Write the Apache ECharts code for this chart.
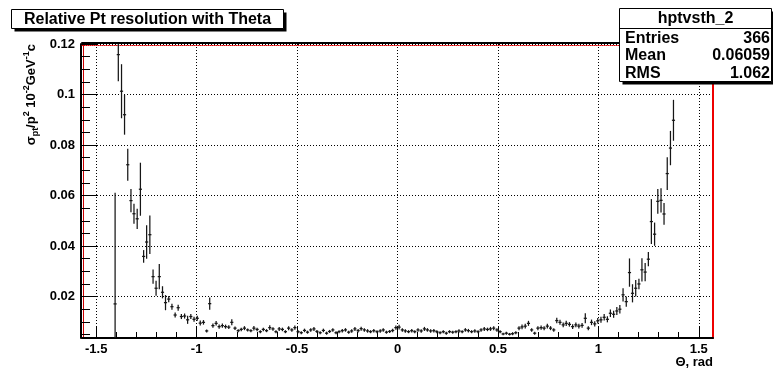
<!DOCTYPE html>
<html>
<head>
<meta charset="utf-8">
<script src="https://cdn.jsdelivr.net/npm/echarts@6.0.0/dist/echarts.min.js"></script>
<style>
  html, body { margin: 0; padding: 0; background: #fff; }
  #chart { width: 773px; height: 370px; }
</style>
</head>
<body>
<div id="chart"></div>
<script>
// Relative Pt resolution vs polar angle, 200 bins over [-pi/2, pi/2]; empty bins omitted.
const theta = [
  -1.406,-1.390,-1.374,-1.359,-1.343,-1.327,-1.312,-1.296,-1.280,-1.264,
  -1.249,-1.233,-1.217,-1.202,-1.186,-1.170,-1.155,-1.139,-1.123,-1.107,
  -1.092,-1.076,-1.060,-1.045,-1.029,-1.013,-0.997,-0.982,-0.966,-0.950,
  -0.935,-0.919,-0.903,-0.888,-0.872,-0.856,-0.840,-0.825,-0.809,-0.793,
  -0.778,-0.762,-0.746,-0.730,-0.715,-0.699,-0.683,-0.668,-0.652,-0.636,
  -0.620,-0.605,-0.589,-0.573,-0.558,-0.542,-0.526,-0.511,-0.495,-0.479,
  -0.463,-0.448,-0.432,-0.416,-0.401,-0.385,-0.369,-0.353,-0.338,-0.322,
  -0.306,-0.291,-0.275,-0.259,-0.243,-0.228,-0.212,-0.196,-0.181,-0.165,
  -0.149,-0.134,-0.118,-0.102,-0.086,-0.071,-0.055,-0.039,-0.024,-0.008,
  0.008,0.024,0.039,0.055,0.071,0.086,0.102,0.118,0.134,0.149,
  0.165,0.181,0.196,0.212,0.228,0.243,0.259,0.275,0.291,0.306,
  0.322,0.338,0.353,0.369,0.385,0.401,0.416,0.432,0.448,0.463,
  0.479,0.495,0.511,0.526,0.542,0.558,0.573,0.589,0.605,0.620,
  0.636,0.652,0.668,0.683,0.699,0.715,0.730,0.746,0.762,0.778,
  0.793,0.809,0.825,0.840,0.856,0.872,0.888,0.903,0.919,0.935,
  0.950,0.966,0.982,0.997,1.013,1.029,1.045,1.060,1.076,1.092,
  1.107,1.123,1.139,1.155,1.170,1.186,1.202,1.217,1.233,1.249,
  1.264,1.280,1.296,1.312,1.327,1.343,1.359,1.374
];

const resolution = [
  0.0171,0.1158,0.1013,0.0920,0.0722,0.0580,0.0528,0.0508,0.0625,0.0359,
  0.0416,0.0445,0.0279,0.0233,0.0279,0.0217,0.0176,0.0190,0.0160,0.0127,
  0.0156,0.0121,0.0123,0.0108,0.0121,0.0110,0.0114,0.0095,0.0098,0.0064,
  0.0172,0.0085,0.0094,0.0081,0.0085,0.0081,0.0079,0.0098,0.0075,0.0065,
  0.0070,0.0075,0.0068,0.0065,0.0075,0.0070,0.0061,0.0070,0.0065,0.0077,
  0.0072,0.0061,0.0072,0.0070,0.0061,0.0075,0.0068,0.0077,0.0061,0.0057,
  0.0066,0.0059,0.0068,0.0072,0.0062,0.0057,0.0066,0.0055,0.0062,0.0068,
  0.0057,0.0061,0.0065,0.0068,0.0059,0.0064,0.0072,0.0065,0.0073,0.0068,
  0.0064,0.0061,0.0065,0.0061,0.0064,0.0068,0.0059,0.0062,0.0066,0.0077,
  0.0079,0.0068,0.0064,0.0061,0.0065,0.0061,0.0068,0.0064,0.0072,0.0068,
  0.0064,0.0065,0.0061,0.0057,0.0061,0.0055,0.0061,0.0059,0.0061,0.0064,
  0.0061,0.0068,0.0065,0.0061,0.0064,0.0061,0.0068,0.0072,0.0070,0.0072,
  0.0075,0.0068,0.0061,0.0052,0.0055,0.0051,0.0053,0.0057,0.0075,0.0080,
  0.0083,0.0094,0.0068,0.0055,0.0075,0.0077,0.0075,0.0083,0.0075,0.0068,
  0.0105,0.0098,0.0088,0.0094,0.0090,0.0081,0.0088,0.0083,0.0086,0.0114,
  0.0075,0.0098,0.0092,0.0104,0.0108,0.0118,0.0110,0.0134,0.0130,0.0143,
  0.0150,0.0207,0.0180,0.0295,0.0213,0.0233,0.0250,0.0306,0.0297,0.0348,
  0.0497,0.0447,0.0577,0.0581,0.0527,0.0687,0.0788,0.0898
];

const resolutionErr = [
  0.0440,0.0105,0.0107,0.0079,0.0063,0.0046,0.0040,0.0040,0.0105,0.0025,
  0.0066,0.0076,0.0028,0.0030,0.0050,0.0024,0.0030,0.0012,0.0012,0.0010,
  0.0012,0.0010,0.0010,0.0016,0.0010,0.0010,0.0010,0.0010,0.0009,0.0006,
  0.0024,0.0008,0.0009,0.0008,0.0008,0.0008,0.0007,0.0012,0.0007,0.0006,
  0.0007,0.0008,0.0006,0.0006,0.0009,0.0007,0.0006,0.0007,0.0006,0.0009,
  0.0007,0.0006,0.0008,0.0007,0.0006,0.0008,0.0007,0.0008,0.0006,0.0006,
  0.0007,0.0006,0.0007,0.0008,0.0006,0.0006,0.0007,0.0006,0.0006,0.0007,
  0.0006,0.0006,0.0007,0.0007,0.0006,0.0007,0.0008,0.0007,0.0008,0.0007,
  0.0007,0.0006,0.0007,0.0006,0.0007,0.0007,0.0006,0.0006,0.0007,0.0008,
  0.0009,0.0007,0.0007,0.0006,0.0007,0.0006,0.0007,0.0007,0.0008,0.0007,
  0.0007,0.0007,0.0006,0.0006,0.0006,0.0006,0.0006,0.0006,0.0006,0.0007,
  0.0006,0.0007,0.0007,0.0006,0.0007,0.0006,0.0007,0.0008,0.0007,0.0008,
  0.0008,0.0007,0.0006,0.0005,0.0006,0.0005,0.0006,0.0006,0.0008,0.0009,
  0.0009,0.0010,0.0007,0.0006,0.0008,0.0008,0.0008,0.0009,0.0008,0.0007,
  0.0011,0.0010,0.0009,0.0010,0.0009,0.0009,0.0009,0.0009,0.0009,0.0020,
  0.0008,0.0011,0.0010,0.0011,0.0012,0.0013,0.0012,0.0015,0.0014,0.0016,
  0.0017,0.0026,0.0020,0.0056,0.0036,0.0033,0.0021,0.0046,0.0036,0.0028,
  0.0089,0.0046,0.0049,0.0048,0.0043,0.0065,0.0068,0.0081
];

// Axis ticks
const xMajorTicks = [-1.5, -1, -0.5, 0, 0.5, 1, 1.5];
const xMinorTicks = [-1.4, -1.3, -1.2, -1.1, -0.9, -0.8, -0.7, -0.6, -0.4, -0.3, -0.2, -0.1,
                     0.1, 0.2, 0.3, 0.4, 0.6, 0.7, 0.8, 0.9, 1.1, 1.2, 1.3, 1.4];
const yMajorTicks = [0.02, 0.04, 0.06, 0.08, 0.1, 0.12];
const yMinorTicks = [0.005, 0.01, 0.015, 0.025, 0.03, 0.035, 0.045, 0.05, 0.055,
                     0.065, 0.07, 0.075, 0.085, 0.09, 0.095, 0.105, 0.11, 0.115];

// Texts
const titleText = 'Relative Pt resolution with Theta';
const histName = 'hptvsth_2';
const statLabels = ['Entries', 'Mean', 'RMS'];
const statValues = ['366', '0.06059', '1.062'];
const xTitle = '\u0398, rad';

const THETA_MIN = -Math.PI / 2;
const THETA_MAX = Math.PI / 2;
const BIN_WIDTH = Math.PI / 200;
const Y_MIN = 0.0036;
const Y_MAX = 0.12;
const FONT = "'Liberation Sans', Arial, Helvetica, sans-serif";

const points = theta.map((t, i) => [t, resolution[i], resolutionErr[i]]);

// Each bin: horizontal bar across the bin width plus a vertical error bar
function renderErrorCross(params, api) {
  const x = api.value(0), y = api.value(1), e = api.value(2);
  const c = api.coord([x, y]);
  const lo = api.coord([x, y - e]);
  const hi = api.coord([x, y + e]);
  const hw = api.size([BIN_WIDTH, 0])[0] / 2;
  const style = { stroke: '#161616', lineWidth: 1.25 };
  return {
    type: 'group',
    children: [
      { type: 'line', shape: { x1: c[0] - hw, y1: c[1], x2: c[0] + hw, y2: c[1] }, style },
      { type: 'line', shape: { x1: c[0], y1: lo[1], x2: c[0], y2: hi[1] }, style }
    ]
  };
}

const dotted = { type: [1, 2], color: '#000', width: 1 };
const hiddenParts = { axisLabel: { show: false }, axisTick: { show: false }, splitLine: { show: false } };

const chart = echarts.init(document.getElementById('chart'), null, { renderer: 'canvas' });
chart.setOption({
  animation: false,
  backgroundColor: '#fff',
  grid: { left: 82, right: 60, top: 44, bottom: 32, containLabel: false },
  xAxis: [
    {
      type: 'value', min: THETA_MIN, max: THETA_MAX, position: 'bottom',
      axisLine: { onZero: false, lineStyle: { color: '#000', width: 2 } },
      axisTick: { inside: true, length: 11, customValues: xMajorTicks, lineStyle: { color: '#000', width: 1 } },
      axisLabel: { customValues: xMajorTicks, color: '#000', fontFamily: FONT, fontSize: 13, fontWeight: 'bold', margin: 5 },
      splitLine: { show: true, lineStyle: dotted }
    },
    Object.assign({
      type: 'value', min: THETA_MIN, max: THETA_MAX, position: 'bottom',
      axisLine: { show: false, onZero: false }
    }, hiddenParts, {
      axisTick: { show: true, inside: true, length: 6, customValues: xMinorTicks, lineStyle: { color: '#000', width: 1 } }
    }),
    Object.assign({
      type: 'value', min: THETA_MIN, max: THETA_MAX, position: 'top', offset: 1,
      axisLine: { onZero: false, lineStyle: { color: '#000', width: 2 } }
    }, hiddenParts),
    Object.assign({
      type: 'value', min: THETA_MIN, max: THETA_MAX, position: 'top', offset: -1,
      axisLine: { onZero: false, lineStyle: { color: '#d00', width: 1, type: [1, 1] } }
    }, hiddenParts)
  ],
  yAxis: [
    {
      type: 'value', min: Y_MIN, max: Y_MAX, position: 'left', offset: 1,
      axisLine: { onZero: false, lineStyle: { color: '#000', width: 2 } },
      axisTick: { inside: true, length: 16, customValues: yMajorTicks, lineStyle: { color: '#000', width: 1 } },
      axisLabel: { customValues: yMajorTicks, color: '#000', fontFamily: FONT, fontSize: 13, fontWeight: 'bold', margin: 6 },
      splitLine: { show: true, lineStyle: dotted }
    },
    Object.assign({
      type: 'value', min: Y_MIN, max: Y_MAX, position: 'left', offset: 1,
      axisLine: { show: false, onZero: false }
    }, hiddenParts, {
      axisTick: { show: true, inside: true, length: 9, customValues: yMinorTicks, lineStyle: { color: '#000', width: 1 } }
    }),
    Object.assign({
      type: 'value', min: Y_MIN, max: Y_MAX, position: 'left', offset: -1,
      axisLine: { onZero: false, lineStyle: { color: '#c00', width: 1 } }
    }, hiddenParts),
    Object.assign({
      type: 'value', min: Y_MIN, max: Y_MAX, position: 'right',
      axisLine: { onZero: false, lineStyle: { color: '#e00', width: 2 } }
    }, hiddenParts)
  ],
  series: [
    {
      type: 'custom',
      xAxisIndex: 0,
      yAxisIndex: 0,
      clip: true,
      renderItem: renderErrorCross,
      data: points,
      z: 5
    }
  ],
  graphic: [
    // title pave with shadow
    { type: 'rect', z: 100, shape: { x: 14.5, y: 12.5, width: 272, height: 19 }, style: { fill: '#000' } },
    { type: 'rect', z: 100, shape: { x: 11.5, y: 9.5, width: 272, height: 19 }, style: { fill: '#fff', stroke: '#000', lineWidth: 1 } },
    { type: 'text', z: 101, x: 147.5, y: 19.5, style: { text: titleText, fill: '#000', font: 'bold 16px ' + FONT, align: 'center', verticalAlign: 'middle' } },

    // statistics box with shadow
    { type: 'rect', z: 100, shape: { x: 622.5, y: 11.5, width: 152, height: 73 }, style: { fill: '#000' } },
    { type: 'rect', z: 100, shape: { x: 619.5, y: 8.5, width: 152, height: 73 }, style: { fill: '#fff', stroke: '#000', lineWidth: 1 } },
    { type: 'line', z: 101, shape: { x1: 619.5, y1: 28.5, x2: 771.5, y2: 28.5 }, style: { stroke: '#000', lineWidth: 1 } },
    { type: 'text', z: 101, x: 695.5, y: 18.5, style: { text: histName, fill: '#000', font: 'bold 16px ' + FONT, align: 'center', verticalAlign: 'middle' } },
    ...statLabels.map((s, i) => ({
      type: 'text', z: 101, x: 625, y: 38.5 + i * 17.5,
      style: { text: s, fill: '#000', font: 'bold 16px ' + FONT, align: 'left', verticalAlign: 'middle' }
    })),
    ...statValues.map((s, i) => ({
      type: 'text', z: 101, x: 770, y: 38.5 + i * 17.5,
      style: { text: s, fill: '#000', font: 'bold 16px ' + FONT, align: 'right', verticalAlign: 'middle' }
    })),

    // axis titles
    {
      type: 'text', z: 101, x: 31, y: 44, rotation: Math.PI / 2,
      style: {
        text: '{n|\u03c3}{s|pt}{n|/p}{u|2}{n| 10}{u|-2}{n|GeV}{u|-1}{n|c}',
        align: 'right', verticalAlign: 'middle', fill: '#000',
        rich: {
          n: { fontFamily: FONT, fontSize: 13, fontWeight: 'bold', lineHeight: 18, fill: '#000' },
          s: { fontFamily: FONT, fontSize: 9, fontWeight: 'bold', lineHeight: 9, verticalAlign: 'bottom', fill: '#000' },
          u: { fontFamily: FONT, fontSize: 9, fontWeight: 'bold', lineHeight: 9, verticalAlign: 'top', fill: '#000' }
        }
      }
    },
    { type: 'text', z: 101, x: 713, y: 362, style: { text: xTitle, fill: '#000', font: 'bold 13px ' + FONT, align: 'right', verticalAlign: 'middle' } }
  ]
});
</script>
</body>
</html>
